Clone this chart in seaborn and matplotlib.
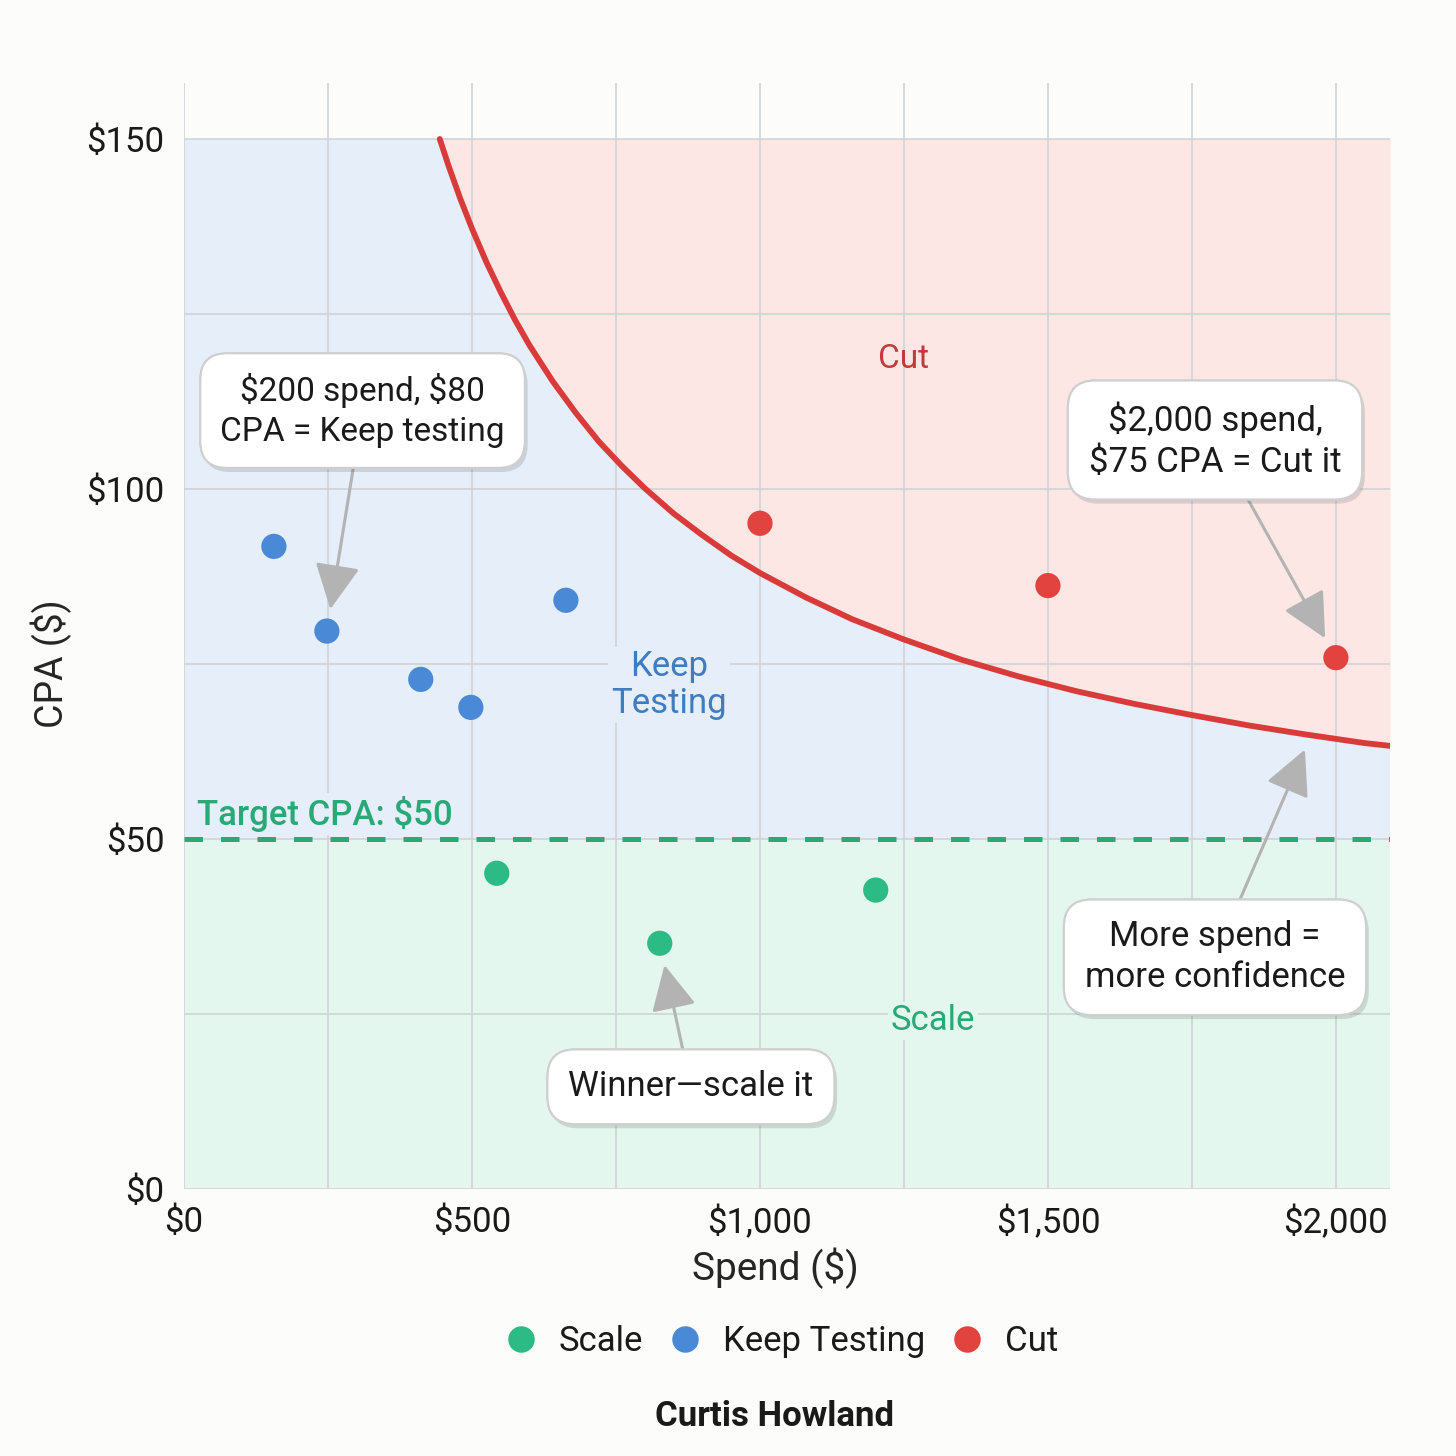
import numpy as np
import pandas as pd
import seaborn as sns
import matplotlib.pyplot as plt
from matplotlib import patheffects as pe
from matplotlib.ticker import FuncFormatter


# --- Data ---

scale_spend = [543, 826, 1201]
scale_cpa = [45.1, 35.1, 42.7]

keep_spend = [156, 248, 411, 498, 663]
keep_cpa = [91.8, 79.7, 72.8, 68.8, 84.1]

cut_spend = [1000, 1500, 2000]
cut_cpa = [95.1, 86.2, 75.9]

# cut-off curve
curve_spend = [444, 460, 480, 500, 525, 550, 575, 600, 640, 680, 720, 760, 800,
               850, 900, 950, 1000, 1080, 1160, 1250, 1350, 1450, 1550, 1650,
               1750, 1850, 1950, 2050, 2094]
curve_cpa = [150.0, 146.0, 141.4, 137.2, 132.4, 128.1, 124.1, 120.5, 115.4, 110.9,
             106.8, 103.3, 100.1, 96.5, 93.4, 90.5, 88.0, 84.5, 81.4, 78.5, 75.6,
             73.2, 71.1, 69.3, 67.7, 66.2, 64.9, 63.7, 63.3]

target_cpa = 50
statuses = ['Scale', 'Keep Testing', 'Cut']

x_ticks = [0, 500, 1000, 1500, 2000]
y_ticks = [0, 50, 100, 150]

# --- Style ---
green, blue, red = '#2cbb85', '#4a89d6', '#e2433f'
green_bg, blue_bg, red_bg = '#e3f7ee', '#e5eef9', '#fde7e5'
palette = dict(zip(statuses, [green, blue, red]))

sns.set_theme(style='whitegrid')
plt.rcParams['font.family'] = ['Roboto', 'DejaVu Sans']
plt.rcParams['figure.facecolor'] = '#fcfcfb'
plt.rcParams['text.color'] = '#1a1a1a'

df = pd.DataFrame({
    'spend': scale_spend + keep_spend + cut_spend,
    'cpa': scale_cpa + keep_cpa + cut_cpa,
    'status': ['Scale'] * len(scale_spend) + ['Keep Testing'] * len(keep_spend) + ['Cut'] * len(cut_spend),
})

fig, ax = plt.subplots(figsize=(14.56, 14.56), dpi=100)
fig.subplots_adjust(left=0.1264, right=0.9547, bottom=0.1834, top=0.943)
ax.set_facecolor('none')
xmax = 2094
ax.set_xlim(0, xmax)
ax.set_ylim(0, 158)

# zones
ax.fill_between([0, xmax], 0, target_cpa, color=green_bg, lw=0, zorder=0)
ax.fill_between([0, xmax], target_cpa, 150, color=blue_bg, lw=0, zorder=0)
ax.fill_between(curve_spend, curve_cpa, 150, color=red_bg, lw=0, zorder=0)

# grid
ax.set_xticks(x_ticks)
ax.set_xticks([250, 750, 1250, 1750], minor=True)
ax.set_yticks(y_ticks)
ax.set_yticks([25, 75, 125], minor=True)
ax.grid(which='both', color='#cdd1d6', lw=1.1)
ax.set_axisbelow(True)
for s in ax.spines.values():
    s.set_visible(False)

fmt = FuncFormatter(lambda v, _: r'\$' + f'{v:,.0f}')
ax.xaxis.set_major_formatter(fmt)
ax.yaxis.set_major_formatter(fmt)
ax.tick_params(which='both', length=0, labelsize=25, colors='#1a1a1a')
ax.tick_params(axis='x', pad=12)
ax.tick_params(axis='y', pad=14)

# curve + target line
sns.lineplot(x=curve_spend, y=curve_cpa, color='#d93b3b', lw=4.2, ax=ax, zorder=3)
ax.axhline(target_cpa, color='#2aa876', lw=3.6, ls=(0, (3.7, 3.6)), zorder=3)

# points
sns.scatterplot(data=df, x='spend', y='cpa', hue='status', hue_order=statuses,
                palette=palette, s=330, edgecolor='none', zorder=5, ax=ax)

sns.move_legend(ax, 'center', bbox_to_anchor=(0.495, -0.138), ncol=3, title=None,
                frameon=False, fontsize=25, handlelength=1.0, handletextpad=0.6,
                columnspacing=0.7, markerscale=1.05)

ax.set_xlabel('Spend (\\$)', fontsize=28)
ax.xaxis.set_label_coords(0.49, -0.053)
ax.set_ylabel('CPA (\\$)', fontsize=27)
ax.yaxis.set_label_coords(-0.093, 0.4747)

# zone labels
ax.text(1250, 118.5, 'Cut', color='#c23b3b', fontsize=24, ha='center', va='center')
ax.text(842, 72, 'Keep\nTesting', color='#3f7cc0', fontsize=25, ha='center', va='center',
        linespacing=1.15, bbox=dict(fc=blue_bg, ec='none', pad=2), zorder=2)
ax.text(1300, 24, 'Scale', color='#2aa876', fontsize=25, ha='center', va='center',
        bbox=dict(fc=green_bg, ec='none', pad=2), zorder=2)
ax.text(22, 53.6, 'Target CPA: \\$50', color='#2aa876', fontsize=25, ha='left', va='center',
        fontweight='medium', bbox=dict(fc=blue_bg, ec='none', pad=2), zorder=2)

# callouts
box = dict(boxstyle='round,pad=0.6,rounding_size=0.8', fc='white', ec='#cfcfcf', lw=1.5)
arrow = dict(arrowstyle='-|>,head_length=1.4,head_width=0.7', color='#b3b3b3', lw=2.2,
             shrinkA=0, shrinkB=16, mutation_scale=20)

callouts = [
    ('\\$200 spend, \\$80\nCPA = Keep testing', (248, 79.7), (310, 111.2), 16, 24),
    ('\\$2,000 spend,\n\\$75 CPA = Cut it', (2000, 75.9), (1790, 107), 16, 25),
    ('More spend =\nmore confidence', (1950, 63.5), (1790, 33.1), 4, 25),
    ('Winner\u2014scale it', (826, 35.1), (880, 14.6), 16, 25),
]
for label, xy, xytext, shrink, size in callouts:
    arr = dict(arrow, shrinkB=shrink)
    ann = ax.annotate(label, xy=xy, xytext=xytext, ha='center', va='center',
                      fontsize=size, linespacing=1.3, bbox=box, arrowprops=arr, zorder=6)
    ann.get_bbox_patch().set_path_effects([
        pe.withSimplePatchShadow(offset=(2, -3), shadow_rgbFace='black', alpha=0.12),
        pe.Normal()])

fig.text(0.532, 1 - 1416 / 1456, 'Curtis Howland', ha='center', va='center',
         fontsize=25, fontweight='bold')

fig.savefig('out.png', dpi=100)
